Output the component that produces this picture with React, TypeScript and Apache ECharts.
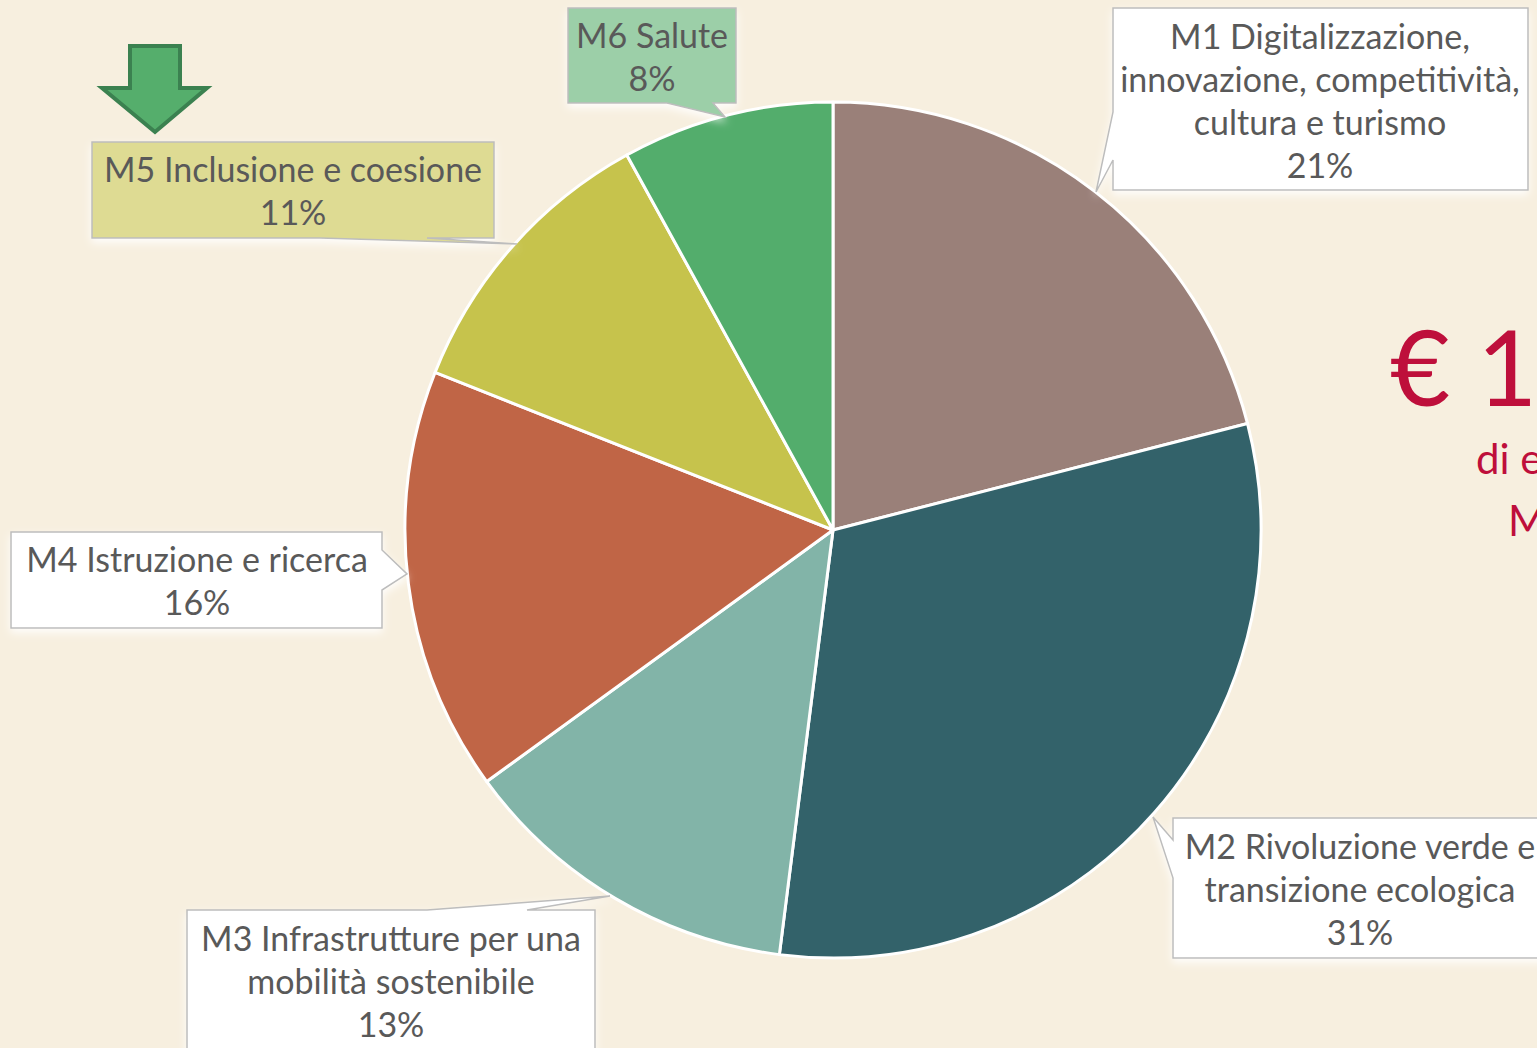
import React, { useEffect, useRef } from "react";
import * as echarts from "echarts";

const categories = [
  "M1 Digitalizzazione,\ninnovazione, competitività,\ncultura e turismo",
  "M2 Rivoluzione verde e\ntransizione ecologica",
  "M3 Infrastrutture per una\nmobilità sostenibile",
  "M4 Istruzione e ricerca",
  "M5 Inclusione e coesione",
  "M6 Salute",
];
const values = [21, 31, 13, 16, 11, 8];
const sliceColors = ["#9a8079", "#33626a", "#82b4a8", "#c06546", "#c6c34c", "#53ad6c"];
const boxFills = ["#ffffff", "#ffffff", "#ffffff", "#ffffff", "#dedb93", "#9ccfa8"];
const headline = ["€ 1", "di e", "M"];

// callout shapes (box + tail) and text anchors
const calloutShapes: number[][][] = [
  [[1113, 8], [1528, 8], [1528, 190], [1113, 190], [1113, 160], [1096, 192], [1113, 112]],
  [[1173, 818], [1560, 818], [1560, 958], [1173, 958], [1173, 878], [1153, 817], [1173, 840]],
  [[187, 910], [427, 910], [610, 896], [527, 910], [595, 910], [595, 1070], [187, 1070]],
  [[11, 532], [382, 532], [382, 550], [407, 574], [382, 590], [382, 628], [11, 628]],
  [[92, 142], [494, 142], [494, 238], [427, 238], [517, 244], [320, 238], [92, 238]],
  [[568, 8], [736, 8], [736, 103], [713, 103], [725, 117], [667, 103], [568, 103]],
];
const textAnchors = [
  [1320, 14],
  [1360, 824],
  [391, 916],
  [197, 537],
  [293, 147],
  [652, 13],
];

export default function App() {
  const ref = useRef<HTMLDivElement>(null);
  useEffect(() => {
    if (!ref.current) return;
    const chart = echarts.init(ref.current, null, { renderer: "svg" });
    const font = "34px Lato, 'Open Sans', sans-serif";
    const callouts: any[] = [];
    categories.forEach((c, i) => {
      callouts.push({
        type: "polygon",
        shape: { points: calloutShapes[i] },
        style: {
          fill: boxFills[i],
          stroke: "#bdbdbd",
          lineWidth: 1.5,
          shadowBlur: 8,
          shadowColor: "rgba(255,255,255,0.9)",
          shadowOffsetY: 4,
        },
        z: 10,
      });
      callouts.push({
        type: "text",
        x: textAnchors[i][0],
        y: textAnchors[i][1],
        style: {
          text: c + "\n" + values[i] + "%",
          font,
          fill: "#595959",
          textAlign: "center",
          textVerticalAlign: "top",
          lineHeight: 43,
        },
        z: 11,
      });
    });
    chart.setOption({
      animation: false,
      backgroundColor: "#f7efdf",
      series: [
        {
          type: "pie",
          center: [833, 530],
          radius: 428,
          startAngle: 90,
          clockwise: true,
          silent: true,
          label: { show: false },
          labelLine: { show: false },
          itemStyle: { borderColor: "#ffffff", borderWidth: 3 },
          data: categories.map((c, i) => ({
            name: c,
            value: values[i],
            itemStyle: { color: sliceColors[i] },
          })),
        },
      ],
      graphic: [
        ...callouts,
        {
          type: "polygon",
          shape: {
            points: [
              [130, 46], [180, 46], [180, 88], [207, 88], [155, 132], [102, 88], [130, 88],
            ],
          },
          style: { fill: "#55ae6c", stroke: "#3b8150", lineWidth: 4 },
          z: 12,
        },
        {
          type: "text",
          x: 1390,
          y: 365,
          style: {
            text: headline[0],
            font: "104px Lato, 'Open Sans', sans-serif",
            fill: "#be0f3b",
            textAlign: "left",
            textVerticalAlign: "middle",
          },
        },
        {
          type: "text",
          x: 1476,
          y: 458,
          style: {
            text: headline[1],
            font: "42px Lato, 'Open Sans', sans-serif",
            fill: "#be0f3b",
            textAlign: "left",
            textVerticalAlign: "middle",
          },
        },
        {
          type: "text",
          x: 1508,
          y: 520,
          style: {
            text: headline[2],
            font: "42px Lato, 'Open Sans', sans-serif",
            fill: "#be0f3b",
            textAlign: "left",
            textVerticalAlign: "middle",
          },
        },
      ],
    });
    return () => chart.dispose();
  }, []);
  return (
    <div
      ref={ref}
      style={{ position: "fixed", left: 0, top: 0, width: 1537, height: 1048 }}
    />
  );
}
